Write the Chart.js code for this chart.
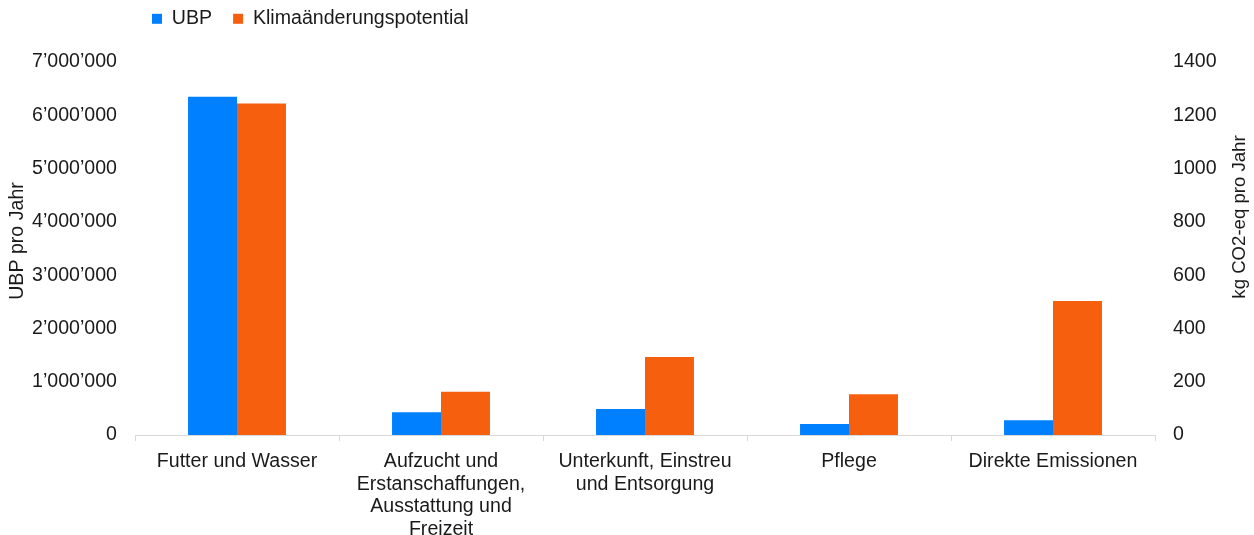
<!DOCTYPE html>
<html>
<head>
<meta charset="utf-8">
<script src="https://cdn.jsdelivr.net/npm/chart.js@4/dist/chart.umd.min.js"></script>
<style>
  html, body { margin: 0; padding: 0; background: #fff; }
  #wrap { width: 1254px; height: 535px; }
</style>
</head>
<body>
<div id="wrap"><canvas id="impactChart"></canvas></div>
<script>
var categories = [
    "Futter und Wasser",
    ["Aufzucht und", "Erstanschaffungen,", "Ausstattung und", "Freizeit"],
    ["Unterkunft, Einstreu", "und Entsorgung"],
    "Pflege",
    "Direkte Emissionen"
];
var ubpValues = [6350000, 425000, 487000, 205000, 275000];
var klimaValues = [1244, 162, 293, 153, 503];
var ubpTicks = { min: 0, max: 7000000, step: 1000000 };
var klimaTicks = { min: 0, max: 1400, step: 200 };
var ubpTitle = "UBP pro Jahr";
var klimaTitle = "kg CO2-eq pro Jahr";

var textColor = "#1a1a1a";
var lineColor = "#d9d9d9";
var fontFamily = "'Liberation Sans', Arial, sans-serif";
var font = { family: fontFamily, size: 19.6 };

// 7'000'000 style numbers
function swissFormat(v) {
    return String(v).replace(/\B(?=(\d{3})+(?!\d))/g, "\u2019");
}

// legend spacing: fixed band above the plot, items nudged up and left
var legendBand = {
    id: "legendBand",
    beforeInit: function(chart) {
        var fit = chart.legend.fit;
        chart.legend.fit = function() {
            fit.call(this);
            this.height = 62;
        };
    },
    afterLayout: function(chart) {
        var lg = chart.legend;
        var dx = 131 - lg.left;
        lg.left += dx;
        lg.right += dx;
        lg.top = -12;
    }
};

// both axis titles read bottom-to-top
var axisTitles = {
    id: "axisTitles",
    afterDraw: function(chart) {
        var ctx = chart.ctx;
        ctx.save();
        ctx.fillStyle = textColor;
        ctx.textAlign = "center";
        ctx.textBaseline = "middle";

        ctx.font = "19.6px " + fontFamily;
        ctx.save();
        ctx.translate(18, 241);
        ctx.rotate(-Math.PI / 2);
        ctx.fillText(ubpTitle, 0, 0);
        ctx.restore();

        ctx.font = "18.6px " + fontFamily;
        ctx.translate(chart.width - 14, 217);
        ctx.rotate(-Math.PI / 2);
        ctx.fillText(klimaTitle, 0, 0);
        ctx.restore();
    }
};

Chart.defaults.font = font;
Chart.defaults.color = textColor;

new Chart("impactChart", {
    type: "bar",
    data: {
        labels: categories,
        datasets: [{
            label: "UBP",
            data: ubpValues,
            backgroundColor: "#0080ff",
            yAxisID: "yUbp",
            categoryPercentage: 0.48,
            barPercentage: 1.0
        }, {
            label: "Klimaänderungspotential",
            data: klimaValues,
            backgroundColor: "#f65f0e",
            yAxisID: "yKlima",
            categoryPercentage: 0.48,
            barPercentage: 1.0
        }]
    },
    options: {
        responsive: true,
        maintainAspectRatio: false,
        animation: false,
        layout: { padding: 0 },
        plugins: {
            legend: {
                position: "top",
                align: "start",
                fullSize: false,
                labels: {
                    boxWidth: 10,
                    boxHeight: 10,
                    padding: 21,
                    color: textColor,
                    font: font
                }
            },
            tooltip: { enabled: false }
        },
        scales: {
            x: {
                grid: {
                    display: true,
                    drawOnChartArea: false,
                    drawTicks: true,
                    tickLength: 6,
                    color: lineColor,
                    offset: true
                },
                border: { display: true, color: lineColor, width: 1 },
                ticks: {
                    padding: 9,
                    color: textColor,
                    font: { family: fontFamily, size: 19.6, lineHeight: 1.16 },
                    maxRotation: 0,
                    autoSkip: false
                },
                afterFit: function(scale) { scale.height = 100; }
            },
            yUbp: {
                position: "left",
                min: ubpTicks.min,
                max: ubpTicks.max,
                grid: { display: false, drawTicks: true, tickLength: 15 },
                border: { display: false },
                ticks: {
                    stepSize: ubpTicks.step,
                    padding: 3,
                    color: textColor,
                    font: font,
                    callback: function(v) { return swissFormat(v); }
                },
                afterFit: function(scale) { scale.width = 135; }
            },
            yKlima: {
                position: "right",
                min: klimaTicks.min,
                max: klimaTicks.max,
                grid: { display: false, drawTicks: true, tickLength: 15 },
                border: { display: false },
                ticks: {
                    stepSize: klimaTicks.step,
                    padding: 3,
                    color: textColor,
                    font: font,
                    callback: function(v) { return String(v); }
                },
                afterFit: function(scale) { scale.width = 99; }
            }
        }
    },
    plugins: [legendBand, axisTitles]
});
</script>
</body>
</html>
